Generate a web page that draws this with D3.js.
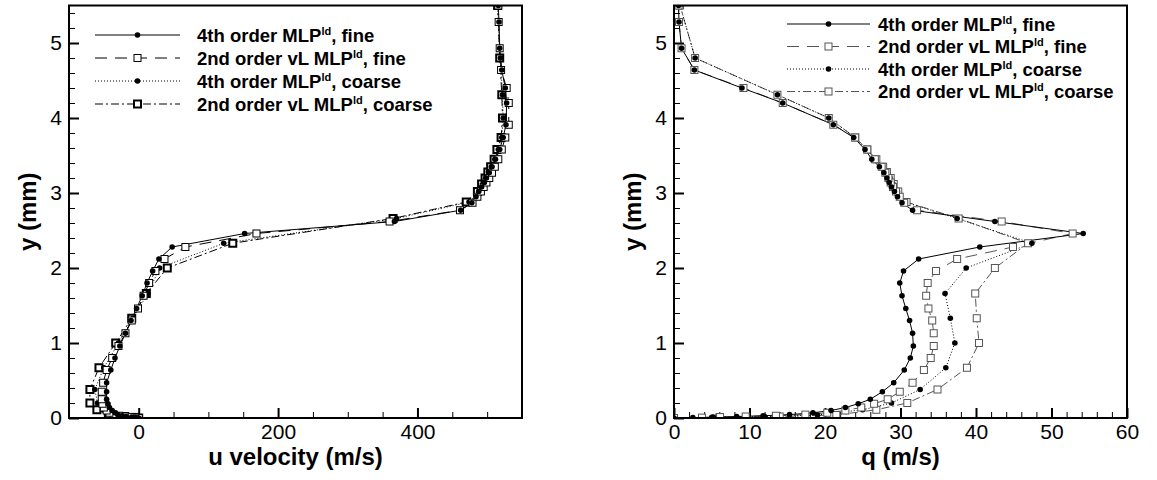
<!DOCTYPE html>
<html>
<head>
<meta charset="utf-8">
<script src="https://cdn.jsdelivr.net/npm/d3@7"></script>
<style>
  body { margin: 0; background: #fff; }
  svg { display: block; font-family: "Liberation Sans", Arial, sans-serif; }
</style>
</head>
<body>
<svg id="chart" width="1157" height="480"></svg>
<script>
// Wall-normal profiles: fine-grid stations (mm)
const yFine = [0, 0.005, 0.012, 0.02, 0.03, 0.045, 0.07, 0.10, 0.14, 0.19, 0.25, 0.35, 0.47, 0.64, 0.80,
  0.96, 1.13, 1.30, 1.46, 1.63, 1.80, 1.96, 2.12, 2.28, 2.46, 2.62, 2.77, 2.87, 2.95, 3.02,
  3.08, 3.14, 3.20, 3.27, 3.35, 3.45, 3.58, 3.74, 3.91, 4.20, 4.40, 4.64, 4.93, 5.28, 5.50];
// u velocity (m/s), fine grid
const uFine4th = [0, -4, -10, -18, -24, -30, -34, -38, -42, -44, -46, -46, -46, -40, -34,
  -27, -19, -11, -3, 5, 12, 20, 29, 48, 152, 367, 462, 478, 484, 488,
  492, 496, 499, 503, 507, 512, 518, 523, 527, 528, 526, 521, 518, 517, 516];
const uFine2nd = [0, -5, -12, -20, -28, -36, -42, -46, -50, -52, -53, -53, -51, -46, -38,
  -29, -19, -10, -1, 7, 15, 24, 37, 67, 169, 360, 461, 479, 486, 491,
  495, 499, 503, 507, 511, 516, 521, 526, 531, 531, 528, 520, 518, 516.5, 516];
// q (m/s), fine grid
const qFine4th = [0, 2.5, 5.2, 8.3, 11.8, 15.3, 18.4, 20.8, 22.7, 24.4, 26.0, 27.6, 29.1, 30.5, 31.3,
  31.7, 31.6, 31.2, 30.7, 30.2, 29.9, 30.4, 32.4, 40.5, 54.2, 42.5, 31.6, 30.2, 29.6, 29.2,
  28.8, 28.5, 28.2, 27.8, 27.2, 26.2, 25.3, 23.8, 21.1, 14.4, 9.0, 2.7, 1.0, 0.66, 0.6];
const qFine2nd = [0, 3.7, 6.1, 9.5, 13.5, 17.4, 20.3, 22.7, 24.8, 26.5, 28.3, 29.9, 31.6, 33.1, 34.0,
  34.4, 34.4, 34.2, 33.7, 33.4, 33.6, 34.7, 37.5, 44.9, 52.8, 43.4, 32.2, 30.5, 29.9, 29.4,
  29.0, 28.7, 28.4, 28.0, 27.5, 26.6, 25.6, 24.0, 21.1, 14.4, 9.2, 2.7, 1.0, 0.66, 0.6];

// Coarse-grid stations (mm)
const yCoarse = [0, 0.008, 0.02, 0.04, 0.11, 0.20, 0.38, 0.67, 1.00, 1.33, 1.66, 2.00, 2.33, 2.66,
  2.88, 3.02, 3.12, 3.20, 3.28, 3.35, 3.45, 3.58, 3.74, 4.00, 4.31, 4.80, 5.50];
const uCoarse4th = [0, -4, -16, -35, -50, -59, -63, -50, -29, -8, 13, 30, 122, 370,
  474, 488, 494, 498, 502, 506, 511, 516, 521, 523, 522, 519, 515];
const uCoarse2nd = [0, -5, -20, -43, -60, -70, -70, -57, -33, -10, 11, 41, 135, 365,
  470, 486, 492, 497, 501, 505, 510, 514, 520, 522, 521, 518, 515];
const qCoarse4th = [0, 5, 12, 19, 25.0, 28.8, 32.6, 36.0, 37.2, 36.6, 35.9, 38.7, 47.4, 37.5,
  30.6, 29.6, 29.0, 28.6, 28.1, 27.6, 26.7, 25.5, 24.0, 20.5, 13.7, 2.8, 0.8];
const qCoarse2nd = [0, 6, 14, 21.5, 26.8, 30.9, 34.9, 38.8, 40.4, 40.1, 39.9, 42.5, 46.9, 37.7,
  30.8, 29.7, 29.1, 28.7, 28.2, 27.7, 26.8, 25.6, 24.0, 20.5, 13.7, 2.8, 0.8];

// Legend entries: [text before superscript, superscript, text after]
const legendLabels = [
  ["4th order MLP", "ld", ", fine"],
  ["2nd order vL MLP", "ld", ", fine"],
  ["4th order MLP", "ld", ", coarse"],
  ["2nd order vL MLP", "ld", ", coarse"]
];

// Axis ticks
const uMajorTicks = [0, 200, 400];
const qMajorTicks = [0, 10, 20, 30, 40, 50, 60];
const yMajorTicks = [0, 1, 2, 3, 4, 5];

const svg = d3.select("#chart");
const plotTop = 5.5, plotBottom = 418;

// Line / marker styles of the four solutions
function seriesStyles(gray) {
  return [
    { dash: null, marker: "circle", stroke: "#000", bold: false },
    { dash: "12,8", marker: "square", stroke: gray, bold: false },
    { dash: "1,2", marker: "circle", stroke: "#000", bold: false },
    { dash: "8,3,2,3", marker: "square", stroke: gray, bold: true }
  ];
}

function drawPanel(cfg) {
  const g = svg.append("g");
  const x = d3.scaleLinear().domain(cfg.xDomain).range([cfg.left, cfg.right]);
  const y = d3.scaleLinear().domain([0, 5.5]).range([plotBottom, plotTop]);

  // minor ticks
  const xMinor = d3.range(cfg.xDomain[0], cfg.xDomain[1] + 1e-9, cfg.xMinorStep)
    .filter(v => v > cfg.xDomain[0] && v < cfg.xDomain[1] && !cfg.xMajor.includes(v));
  const yMinor = d3.range(0.2, 5.5, 0.2).map(v => +v.toFixed(1)).filter(v => !yMajorTicks.includes(v));

  g.append("g").attr("transform", `translate(0,${plotBottom})`)
    .call(d3.axisBottom(x).tickValues(xMinor).tickSizeInner(-6).tickSizeOuter(0).tickFormat(""))
    .call(a => a.select(".domain").remove())
    .call(a => a.selectAll("line").attr("stroke", "#000").attr("stroke-width", 1));
  g.append("g").attr("transform", `translate(${cfg.left},0)`)
    .call(d3.axisLeft(y).tickValues(yMinor).tickSizeInner(-6).tickSizeOuter(0).tickFormat(""))
    .call(a => a.select(".domain").remove())
    .call(a => a.selectAll("line").attr("stroke", "#000").attr("stroke-width", 1));

  // major ticks + labels
  g.append("g").attr("transform", `translate(0,${plotBottom})`)
    .call(d3.axisBottom(x).tickValues(cfg.xMajor).tickSizeInner(-10).tickSizeOuter(0).tickPadding(6).tickFormat(d3.format("d")))
    .call(a => a.select(".domain").remove())
    .call(a => a.selectAll("line").attr("stroke", "#000").attr("stroke-width", 2))
    .call(a => a.selectAll("text").attr("font-size", 21).attr("fill", "#000")
      .attr("font-family", "'Liberation Sans', Arial, sans-serif"));
  g.append("g").attr("transform", `translate(${cfg.left},0)`)
    .call(d3.axisLeft(y).tickValues(yMajorTicks).tickSizeInner(-10).tickSizeOuter(0).tickPadding(7).tickFormat(d3.format("d")))
    .call(a => a.select(".domain").remove())
    .call(a => a.selectAll("line").attr("stroke", "#000").attr("stroke-width", 2))
    .call(a => a.selectAll("text").attr("font-size", 21).attr("fill", "#000")
      .attr("font-family", "'Liberation Sans', Arial, sans-serif"));

  // curves
  const styles = seriesStyles(cfg.gray);
  const line = d3.line().x(d => x(d[0])).y(d => y(d[1]));
  const series = cfg.series.map((s, i) => ({ pts: s.v.map((v, k) => [v, s.y[k]]), st: styles[i] }));
  const clip = "clip-" + cfg.id;
  svg.append("clipPath").attr("id", clip).append("rect")
    .attr("x", cfg.left).attr("y", plotTop).attr("width", cfg.right - cfg.left).attr("height", plotBottom - plotTop);
  const curves = g.append("g").attr("clip-path", `url(#${clip})`);

  [3, 2, 1, 0].forEach(i => {
    const s = series[i];
    curves.append("path").datum(s.pts).attr("d", line)
      .attr("fill", "none").attr("stroke", s.st.stroke).attr("stroke-width", 1)
      .attr("stroke-dasharray", s.st.dash);
  });
  [3, 2, 1, 0].forEach(i => {
    const s = series[i];
    drawMarkers(curves, s.pts.map(p => [x(p[0]), y(p[1])]), s.st, cfg.boldSquares);
  });

  // frame
  g.append("rect").attr("x", cfg.left).attr("y", plotTop)
    .attr("width", cfg.right - cfg.left).attr("height", plotBottom - plotTop)
    .attr("fill", "none").attr("stroke", "#000").attr("stroke-width", 2);

  // axis titles
  g.append("text").attr("x", (cfg.left + cfg.right) / 2).attr("y", 465)
    .attr("text-anchor", "middle").attr("font-size", 24).attr("font-weight", "bold").text(cfg.xTitle);
  g.append("text").attr("transform", `translate(${cfg.left - 42},${(plotTop + plotBottom) / 2}) rotate(-90)`)
    .attr("text-anchor", "middle").attr("dominant-baseline", "central")
    .attr("font-size", 24).attr("font-weight", "bold").text("y (mm)");

  // legend
  const lg = g.append("g");
  legendLabels.forEach((lab, i) => {
    const st = styles[i];
    const ly = cfg.legend.y0 + i * cfg.legend.dy;
    lg.append("line").attr("x1", cfg.legend.x1).attr("x2", cfg.legend.x2).attr("y1", ly).attr("y2", ly)
      .attr("stroke", st.stroke).attr("stroke-width", 1).attr("stroke-dasharray", st.dash);
    drawMarkers(lg, [[(cfg.legend.x1 + cfg.legend.x2) / 2, ly]], st, cfg.boldSquares);
    const t = lg.append("text").attr("x", cfg.legend.tx).attr("y", ly + 6.5)
      .attr("font-size", 18.5).attr("font-weight", "bold");
    t.append("tspan").text(lab[0]);
    t.append("tspan").attr("font-size", 11).attr("dy", -7).text(lab[1]);
    t.append("tspan").attr("dy", 7).text(lab[2]);
  });
}

function drawMarkers(sel, pts, st, boldSquares) {
  if (st.marker === "circle") {
    sel.selectAll(null).data(pts).join("circle")
      .attr("cx", d => d[0]).attr("cy", d => d[1]).attr("r", 2.8).attr("fill", "#000");
  } else {
    const bold = st.bold && boldSquares;
    const s = 7;
    sel.selectAll(null).data(pts).join("rect")
      .attr("x", d => d[0] - s / 2).attr("y", d => d[1] - s / 2).attr("width", s).attr("height", s)
      .attr("fill", "#fff").attr("stroke", st.stroke).attr("stroke-width", bold ? 2 : 1);
  }
}

drawPanel({
  id: "u", left: 69, right: 522, xDomain: [-100, 550], xMajor: uMajorTicks, xMinorStep: 50,
  xTitle: "u velocity (m/s)", gray: "#000", boldSquares: true,
  series: [
    { y: yFine, v: uFine4th }, { y: yFine, v: uFine2nd },
    { y: yCoarse, v: uCoarse4th }, { y: yCoarse, v: uCoarse2nd }
  ],
  legend: { x1: 95, x2: 180, tx: 197, y0: 35, dy: 23 }
});

drawPanel({
  id: "q", left: 674, right: 1127, xDomain: [0, 60], xMajor: qMajorTicks, xMinorStep: 2,
  xTitle: "q (m/s)", gray: "#555", boldSquares: false,
  series: [
    { y: yFine, v: qFine4th }, { y: yFine, v: qFine2nd },
    { y: yCoarse, v: qCoarse4th }, { y: yCoarse, v: qCoarse2nd }
  ],
  legend: { x1: 787, x2: 870, tx: 878, y0: 24, dy: 22.5 }
});
</script>
</body>
</html>
